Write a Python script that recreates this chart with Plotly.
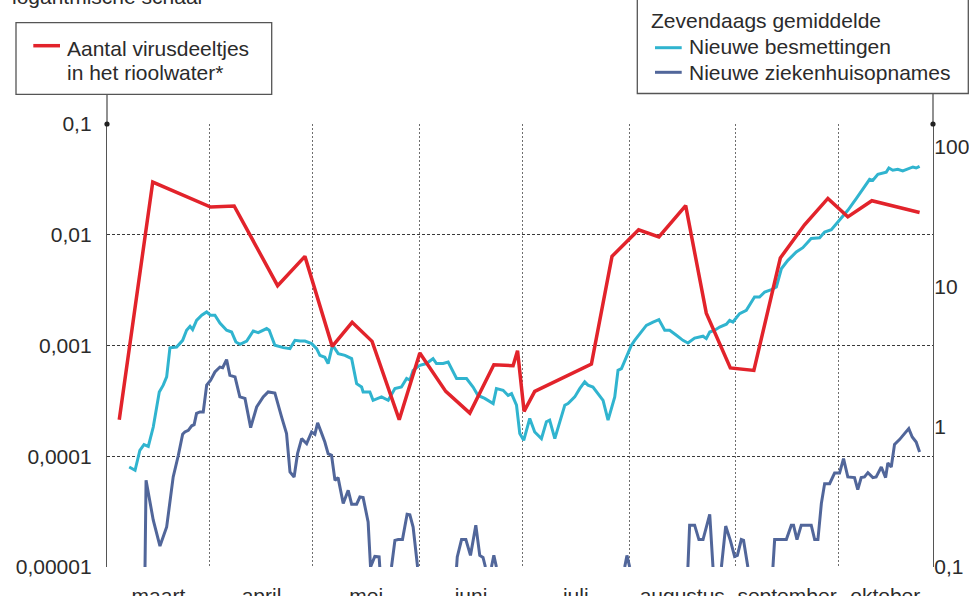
import pandas as pd
import plotly.graph_objects as go

BASE = pd.Timestamp("2020-03-01")

# ---------------- data (x = days since 1 March 2020) ----------------
sewage_day = [4.6, 14.35, 31.2, 38.05, 50.7, 58.65, 66.6, 72.4, 78.2, 86.1, 92.1, 99.65,
              106.65, 113.65, 119.25, 120.55, 122.45, 125.55, 142.05, 148.05, 155.8, 161.7,
              169.5, 175.5, 182.5, 189.35, 197.05, 204.1, 210.9, 216.7, 223.7, 230.8, 237.6]
sewage_val = [2.14e-4, 0.0299, 0.0178, 0.0182, 0.00347, 0.00638, 9.82e-4, 1.62e-3, 1.09e-3,
              2.14e-4, 8.55e-4, 3.85e-4, 2.45e-4, 6.71e-4, 6.58e-4, 8.97e-4, 2.54e-4, 3.85e-4,
              6.81e-4, 6.38e-3, 0.0111, 0.00955, 0.0183, 1.96e-3, 6.27e-4, 5.96e-4, 6.17e-3,
              0.0123, 0.0213, 0.0145, 0.0203, 0.018, 0.0159]

cases_day = [7.5, 9.2, 10.6, 11.8, 13.05, 14.5, 16.25, 17.4, 18.4, 19.35, 21.3, 23.05, 24.2,
             25.2, 25.95, 27.1, 28.6, 30.05, 31.2, 32.45, 33.9, 35.85, 37.3, 38.55, 39.75,
             41.7, 43.6, 45.05, 47.5, 48.25, 49.9, 52.35, 54.3, 55.75, 57.2, 58.65, 60.6,
             62.05, 63.0, 64.45, 65.4, 66.7, 68.35, 70.3, 72.25, 73.7, 75.15, 75.6, 77.55,
             78.5, 80.95, 82.9, 84.85, 86.75, 88.25, 89.2, 90.15, 92.1, 94.05, 95.95, 96.95,
             98.9, 100.35, 102.8, 105.7, 107.6, 109.05, 111.0, 113.45, 114.4, 116.35, 117.8,
             118.8, 120.25, 121.2, 122.35, 123.15, 124.1, 125.55, 127.5, 128.95, 129.9, 131.4,
             132.85, 134.3, 135.25, 137.2, 138.65, 140.1, 141.05, 142.5, 145.45, 146.9, 148.85,
             149.8, 150.8, 152.25, 153.7, 154.65, 156.1, 158.05, 160.0, 161.7, 163.4, 164.85,
             166.8, 168.7, 170.15, 172.1, 174.55, 175.5, 176.5, 177.95, 179.4, 181.35, 182.3,
             183.25, 185.2, 187.15, 189.55, 191.0, 192.5, 194.45, 195.9, 197.35, 199.25, 201.7,
             203.6, 206.05, 208.5, 209.95, 211.9, 214.3, 216.7, 219.15, 221.1, 223.05, 224.0,
             225.45, 227.9, 228.65, 229.8, 231.25, 232.7, 234.65, 235.65, 236.6, 237.6]
cases_val = [0.518, 0.491, 0.682, 0.748, 0.727, 1.0, 1.78, 1.99, 2.28, 3.68, 3.73, 4.16, 4.91,
             5.24, 4.97, 5.78, 6.28, 6.63, 6.28, 6.28, 5.53, 4.91, 4.77, 4.05, 3.90,
             4.11, 4.85, 4.72, 5.05, 4.91, 3.84, 3.69, 3.63, 4.16, 4.11, 4.11, 3.94,
             3.63, 3.25, 3.15, 2.84, 3.84, 3.34, 3.25, 3.08, 2.04, 1.93, 1.78, 1.78,
             1.55, 1.64, 1.55, 1.88, 1.93, 2.22, 2.16, 2.54, 2.76, 2.84, 3.08, 2.84,
             2.84, 2.91, 2.22, 2.22, 1.93, 1.68, 1.60, 1.47, 1.88, 1.83, 1.68,
             1.73, 1.43, 0.897, 0.803, 0.947, 1.15, 0.921, 0.826, 1.09, 1.12, 0.826,
             1.09, 1.43, 1.47, 1.64, 1.88, 2.10, 1.99, 1.93, 1.55, 1.12, 1.64,
             2.54, 2.61, 3.16, 3.84, 4.16, 4.64, 5.32, 5.62, 5.85, 4.91, 4.91,
             4.52, 4.16, 3.98, 4.32, 4.45, 4.28, 4.77, 4.91, 5.18, 5.42, 5.78,
             5.62, 6.45, 6.82, 8.48, 8.48, 9.21, 9.57, 10.0, 13.5, 15.5, 17.8,
             19.1, 22.2, 22.5, 24.7, 25.7, 29.9, 35.3, 42.8, 50.5, 58.8, 57.8,
             63.8, 66.2, 70.8, 68.2, 69.3, 67.4, 70.1, 72.0, 70.8, 72.8]

# hospital admissions; 0.1 = line reaches the bottom of the scale, None = hidden stretch
hosp_day = [12.1, 12.4, 14.5, 16.45, 18.4, 20.3, 21.8, 23.05, 23.7, 24.7, 25.7, 26.4, 27.1,
            28.1, 29.05, 30.05, 31.2, 32.45, 33.9, 34.7, 35.85, 36.8, 38.3, 39.7, 41.2,
            42.85, 44.6, 46.5, 47.95, 49.9, 51.85, 53.3, 54.3, 55.5, 56.5, 57.7, 59.15,
            60.6, 61.55, 62.35, 63.3, 64.45, 65.4, 66.4, 67.4, 68.3, 69.8, 71.25, 72.25,
            73.7, 74.65, 75.6, 77.05, 77.75, 79.0, 80.25, 80.45, 82.0,
            83.85, 84.85, 85.8, 87.05, 88.4, 89.2, 90.15, 91.45, 97.0,
            102.8, 103.0, 104.25, 105.5, 106.85, 108.4, 109.55, 110.5, 111.2, 112.0,
            112.95, 113.65, 114.4, 130.0,
            151.75, 152.4, 153.2, 160.0,
            170.15, 170.65, 172.1, 173.35, 174.55, 176.5, 177.45, 178.5,
            179.9, 181.15, 182.5, 183.75, 184.55, 185.7, 186.35, 187.6, 191.0,
            194.9, 195.4, 198.8, 200.25, 200.9, 201.9, 203.15, 206.05, 207.05, 208.0,
            209.0, 209.95, 211.4, 212.85, 214.3, 215.45, 216.7, 218.65, 219.6, 220.6,
            221.55, 222.55, 224.0, 224.95, 226.45, 227.7, 228.35, 229.35, 230.3, 231.75,
            233.2, 234.45, 235.45, 236.6, 237.6]
hosp_val = [0.1, 0.416, 0.216, 0.141, 0.193, 0.44, 0.628, 0.887, 0.921, 0.947, 1.02, 1.04, 1.25,
            1.28, 1.28, 1.99, 2.16, 2.47, 2.68, 2.65, 3.03, 2.34, 2.28, 1.64, 1.60,
            0.99, 1.39, 1.64, 1.78, 1.75, 1.18, 0.897, 0.477, 0.44, 0.645, 0.826, 0.76,
            0.921, 0.887, 1.07, 0.93, 0.781, 0.645, 0.628, 0.416, 0.435, 0.284, 0.353, 0.281,
            0.281, 0.316, 0.313, 0.21, 0.1, 0.119, 0.118, 0.1, None,
            0.1, 0.155, 0.157, 0.157, 0.238, 0.236, 0.193, 0.1, None,
            0.1, 0.118, 0.157, 0.157, 0.121, 0.199, 0.121, 0.117, 0.1, None,
            0.1, 0.121, 0.1, None,
            0.1, 0.121, 0.1, None,
            0.1, 0.199, 0.199, 0.157, 0.157, 0.238, 0.1, None,
            0.1, 0.196, 0.155, 0.119, 0.121, 0.157, 0.155, 0.1, None,
            0.1, 0.157, 0.157, 0.199, 0.199, 0.157, 0.199, 0.199, 0.157, 0.157,
            0.284, 0.394, 0.394, 0.469, 0.469, 0.595, 0.44, 0.435, 0.357, 0.435,
            0.44, 0.472, 0.435, 0.44, 0.518, 0.435, 0.553, 0.518, 0.751, 0.813,
            0.897, 0.974, 0.849, 0.781, 0.663]

month_labels = ["maart", "april", "mei", "juni", "juli", "augustus", "september", "oktober"]
month_label_day = [16, 46, 76.5, 107, 137.5, 168.5, 199, 227.6]
left_tick_vals = [1e-5, 1e-4, 1e-3, 1e-2, 1e-1]
left_tick_text = ["0,00001", "0,0001", "0,001", "0,01", "0,1"]
right_tick_vals = [0.1, 1, 10, 100]
right_tick_text = ["0,1", "1", "10", "100"]
x_range_day = [1.03, 241.5]

# ---------------- helpers ----------------
def to_dates(days):
    return [BASE + pd.Timedelta(days=d) for d in days]

W, H = 969, 596
ML, MT, PW, PH = 107, 124, 826, 443
MR, MB = W - ML - PW, H - MT - PH

def xp(px):  # window pixel -> paper x
    return (px - ML) / PW
def yp(py):  # window pixel -> paper y
    return (MT + PH - py) / PH

FONT = "Liberation Sans, Arial, sans-serif"
TXT = "#2b2b2b"
RED, CYAN, NAVY = "#e2232b", "#30b4cf", "#51669a"

fig = go.Figure()
fig.add_trace(go.Scatter(x=to_dates(cases_day), y=cases_val, mode="lines", yaxis="y",
                         name="Nieuwe besmettingen", line=dict(color=CYAN, width=3),
                         showlegend=False))
fig.add_trace(go.Scatter(x=to_dates(hosp_day), y=hosp_val, mode="lines", yaxis="y",
                         name="Nieuwe ziekenhuisopnames", line=dict(color=NAVY, width=3),
                         connectgaps=False, showlegend=False))
fig.add_trace(go.Scatter(x=to_dates(sewage_day), y=sewage_val, mode="lines", yaxis="y2",
                         name="Aantal virusdeeltjes in het rioolwater*",
                         line=dict(color=RED, width=3.5), showlegend=False))

fig.update_layout(
    template="none",
    width=W, height=H,
    margin=dict(l=ML, r=MR, t=MT, b=MB, pad=0),
    paper_bgcolor="white", plot_bgcolor="white",
    font=dict(family=FONT, size=21, color=TXT),
    xaxis=dict(
        type="date",
        range=to_dates(x_range_day),
        tickmode="array", tickvals=to_dates(month_label_day), ticktext=month_labels,
        ticks="", showgrid=False, zeroline=False, showline=False,
        tickfont=dict(family=FONT, size=21, color=TXT),
        ticklabelstandoff=14,
        minor=dict(tick0="2020-03-01", dtick="M1", showgrid=True, gridcolor="#6e6e6e",
                   gridwidth=1, griddash="2px,2px", ticks=""),
        automargin=False,
    ),
    yaxis=dict(
        type="log", side="right", range=[-1, -1 + PH / 140.0],
        tickmode="array", tickvals=right_tick_vals, ticktext=right_tick_text,
        ticks="", showgrid=False, zeroline=False,
        showline=True, linecolor="#555555", linewidth=1.3,
        tickfont=dict(family=FONT, size=21, color=TXT),
        ticklabelstandoff=-4, automargin=False,
    ),
    yaxis2=dict(
        type="log", side="left", overlaying="y", range=[-5, -1],
        tickmode="array", tickvals=left_tick_vals, ticktext=left_tick_text,
        ticks="", showgrid=True, gridcolor="#3a3a3a", gridwidth=1, griddash="3px,2px",
        zeroline=False, showline=True, linecolor="#555555", linewidth=1.3,
        tickfont=dict(family=FONT, size=21, color=TXT),
        ticklabelstandoff=10, automargin=False,
    ),
    showlegend=False,
)

shapes = []
# axis lines continue up to the legend boxes
for xx in (0, 1):
    shapes.append(dict(type="line", xref="paper", yref="paper", x0=xx, x1=xx,
                       y0=1, y1=yp(93.5), line=dict(color="#555555", width=1.3)))
    shapes.append(dict(type="circle", xref="paper", yref="paper", xsizemode="pixel",
                       ysizemode="pixel", xanchor=xx, yanchor=1, x0=-2.6, x1=2.6,
                       y0=-2.6, y1=2.6, fillcolor="#222222", line=dict(width=0)))
# legend boxes
shapes.append(dict(type="rect", xref="paper", yref="paper", x0=xp(16), x1=xp(271.7),
                   y0=yp(94.3), y1=yp(22.7), line=dict(color="#555555", width=1.3),
                   fillcolor="white"))
shapes.append(dict(type="rect", xref="paper", yref="paper", x0=xp(637.3), x1=xp(968.3),
                   y0=yp(93.5), y1=yp(-5), line=dict(color="#555555", width=1.3),
                   fillcolor="white"))
# legend samples
for (x0, x1, yy, col, w) in [(33.3, 60, 45.7, RED, 3.5), (655, 681.7, 47.7, CYAN, 3),
                             (655, 681.7, 72.3, NAVY, 3)]:
    shapes.append(dict(type="line", xref="paper", yref="paper", x0=xp(x0), x1=xp(x1),
                       y0=yp(yy), y1=yp(yy), line=dict(color=col, width=w)))
fig.update_layout(shapes=shapes)

annos = []
def add_text(txt, px, py_center):
    annos.append(dict(text=txt, xref="paper", yref="paper", x=xp(px), y=yp(py_center),
                      xanchor="left", yanchor="middle", showarrow=False, align="left",
                      font=dict(family=FONT, size=21, color=TXT), borderpad=0))
add_text("logaritmische schaal", 11, -3.5)
add_text("Aantal virusdeeltjes", 66, 48)
add_text("in het rioolwater*", 66, 73)
add_text("Zevendaags gemiddelde", 650, 20.5)
add_text("Nieuwe besmettingen", 688, 46.5)
add_text("Nieuwe ziekenhuisopnames", 688, 73)
fig.update_layout(annotations=annos)

# let the figure start at the window's top-left corner, as in the reference
fig.write_html("out.html", config={"displayModeBar": False},
               post_script="document.body.style.margin='0px';")
